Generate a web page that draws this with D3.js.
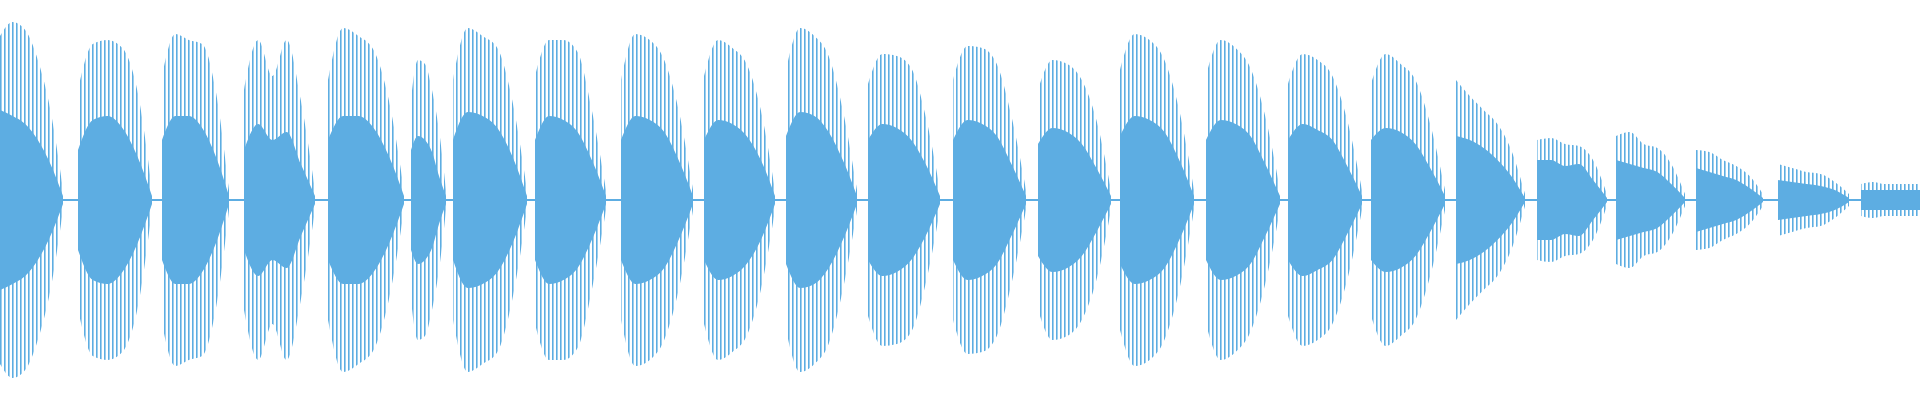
<!DOCTYPE html>
<html>
<head>
<meta charset="utf-8">
<style>
  body { margin: 0; background: #fff; }
  svg { display: block; }
</style>
</head>
<body>
<svg width="1920" height="400">
  <defs>
    <pattern id="lines" width="4" height="10" patternUnits="userSpaceOnUse">
      <rect x="0" y="0" width="1.6" height="10" fill="#5dade2"></rect>
    </pattern>
  </defs>
</svg>
<script src="https://d3js.org/d3.v7.min.js"></script>
<script>
// burst start / end times (ms)
let burstStart = [0, 78, 162, 244, 328, 411, 453, 535, 621, 704, 786, 868, 953, 1038, 1120, 1206, 1288, 1371, 1456, 1537, 1616, 1696, 1778, 1861]
let burstEnd   = [63, 152, 229, 315, 404, 446, 527, 606, 693, 775, 857, 940, 1026, 1111, 1194, 1280, 1362, 1445, 1525, 1607, 1685, 1763, 1849, 1920]

// outer peak envelope, sampled at 0, 20, 40, 60, 80, 100 % of each burst
let peakEnv = [
  [0.82, 0.89, 0.85, 0.70, 0.45, 0.05],
  [0.55, 0.78, 0.80, 0.76, 0.55, 0.05],
  [0.62, 0.83, 0.80, 0.78, 0.55, 0.05],
  [0.55, 0.80, 0.62, 0.80, 0.50, 0.05],
  [0.60, 0.86, 0.82, 0.75, 0.50, 0.05],
  [0.50, 0.70, 0.68, 0.55, 0.35, 0.05],
  [0.60, 0.86, 0.82, 0.76, 0.50, 0.05],
  [0.62, 0.80, 0.80, 0.74, 0.45, 0.05],
  [0.60, 0.83, 0.80, 0.70, 0.45, 0.05],
  [0.62, 0.80, 0.76, 0.68, 0.45, 0.05],
  [0.65, 0.86, 0.82, 0.72, 0.45, 0.05],
  [0.58, 0.73, 0.72, 0.66, 0.42, 0.05],
  [0.60, 0.77, 0.76, 0.68, 0.42, 0.05],
  [0.55, 0.70, 0.68, 0.60, 0.40, 0.05],
  [0.65, 0.83, 0.80, 0.70, 0.45, 0.05],
  [0.62, 0.80, 0.76, 0.66, 0.42, 0.05],
  [0.58, 0.73, 0.70, 0.62, 0.40, 0.05],
  [0.58, 0.73, 0.68, 0.60, 0.38, 0.05],
  [0.60, 0.52, 0.45, 0.38, 0.25, 0.03],
  [0.30, 0.31, 0.28, 0.27, 0.20, 0.03],
  [0.32, 0.34, 0.28, 0.26, 0.18, 0.03],
  [0.25, 0.24, 0.20, 0.17, 0.12, 0.03],
  [0.18, 0.16, 0.14, 0.13, 0.09, 0.03],
  [0.08, 0.09, 0.08, 0.08, 0.08, 0.08]
]

// solid core envelope, same sampling
let coreEnv = [
  [0.45, 0.42, 0.38, 0.30, 0.18, 0.02],
  [0.25, 0.40, 0.42, 0.36, 0.22, 0.02],
  [0.30, 0.42, 0.42, 0.36, 0.22, 0.02],
  [0.25, 0.38, 0.30, 0.34, 0.18, 0.02],
  [0.30, 0.42, 0.42, 0.36, 0.22, 0.02],
  [0.25, 0.32, 0.30, 0.24, 0.12, 0.02],
  [0.30, 0.44, 0.42, 0.36, 0.22, 0.02],
  [0.30, 0.42, 0.40, 0.34, 0.20, 0.02],
  [0.30, 0.42, 0.40, 0.34, 0.20, 0.02],
  [0.30, 0.40, 0.38, 0.32, 0.20, 0.02],
  [0.32, 0.44, 0.42, 0.34, 0.20, 0.02],
  [0.30, 0.38, 0.36, 0.30, 0.18, 0.02],
  [0.30, 0.40, 0.38, 0.32, 0.18, 0.02],
  [0.28, 0.36, 0.34, 0.28, 0.16, 0.02],
  [0.32, 0.42, 0.40, 0.34, 0.20, 0.02],
  [0.30, 0.40, 0.38, 0.32, 0.18, 0.02],
  [0.30, 0.38, 0.35, 0.30, 0.17, 0.02],
  [0.30, 0.36, 0.34, 0.28, 0.16, 0.02],
  [0.32, 0.30, 0.26, 0.20, 0.12, 0.01],
  [0.20, 0.20, 0.17, 0.18, 0.10, 0.01],
  [0.20, 0.18, 0.16, 0.14, 0.08, 0.01],
  [0.16, 0.14, 0.12, 0.10, 0.06, 0.01],
  [0.10, 0.09, 0.08, 0.07, 0.05, 0.01],
  [0.05, 0.05, 0.05, 0.05, 0.05, 0.05]
]

let stops = [0, 0.2, 0.4, 0.6, 0.8, 1]

let svg = d3.select("svg")
let width = 1920, height = 400

let x = d3.scaleLinear().domain([0, 1920]).range([0, width])
let y = d3.scaleLinear().domain([-1, 1]).range([height, 0])

let area = d3.area()
  .curve(d3.curveMonotoneX)
  .x(d => x(d.t))
  .y0(d => y(-d.a))
  .y1(d => y(d.a))

function points(i, env) {
  return stops.map((s, k) => ({
    t: burstStart[i] + s * (burstEnd[i] - burstStart[i]),
    a: env[i][k]
  }))
}

// thin centre line through the silent gaps
svg.append("line")
  .attr("x1", x(0)).attr("x2", x(1920))
  .attr("y1", y(0)).attr("y2", y(0))
  .style("stroke", "#5dade2")
  .style("stroke-width", "2px")

let idx = d3.range(burstStart.length)

svg.append("g").selectAll("path")
  .data(idx)
  .join("path")
  .attr("d", i => area(points(i, peakEnv)))
  .style("fill", "url(#lines)")

svg.append("g").selectAll("path")
  .data(idx)
  .join("path")
  .attr("d", i => area(points(i, coreEnv)))
  .style("fill", "#5dade2")
</script>
</body>
</html>
